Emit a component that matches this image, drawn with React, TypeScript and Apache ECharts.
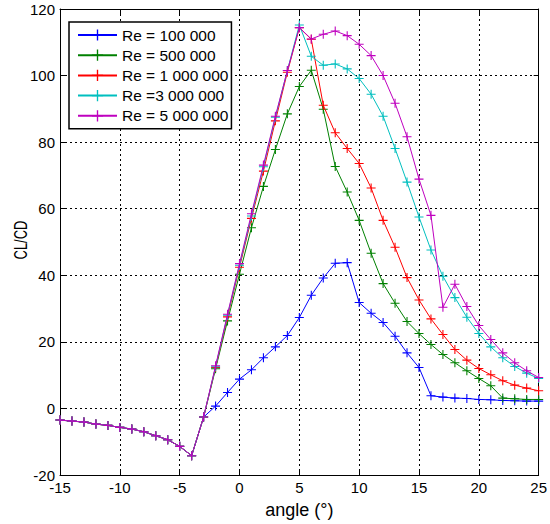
import React, { useEffect, useRef } from "react";
import * as echarts from "echarts";

const angles = [
  -15, -14, -13, -12, -11, -10, -9, -8, -7, -6, -5, -4, -3, -2, -1, 0, 1, 2, 3, 4, 5,
  6, 7, 8, 9, 10, 11, 12, 13, 14, 15, 16, 17, 18, 19, 20, 21, 22, 23, 24, 25,
];

// shared part (-15 .. -4)
const commonNeg = [-3.5, -3.8, -4.1, -4.7, -5.1, -5.7, -6.2, -7.0, -8.2, -9.4, -11.4, -14.2];

// -3 .. 25
const re100k = [-2.6, 0.7, 4.8, 8.8, 11.6, 15.2, 18.5, 21.9, 27.3, 34.0, 39.2, 43.6, 43.8, 31.8, 28.6, 25.8, 21.7, 16.7, 12.3, 3.8, 3.4, 3.1, 3.0, 2.7, 2.6, 2.4, 2.3, 2.2, 2.2];
const re500k = [-2.6, 11.9, 26.3, 40.3, 54.3, 66.7, 77.8, 88.5, 96.7, 101.6, 89.9, 72.7, 65.0, 56.5, 46.6, 37.5, 31.6, 26.1, 22.5, 19.2, 16.2, 13.7, 11.3, 9.0, 6.8, 3.1, 2.9, 2.7, 2.7];
const re1M = [-2.6, 12.3, 27.5, 42.4, 57.1, 71.3, 86.4, 101.0, 114.4, 110.9, 91.1, 82.8, 78.1, 73.6, 66.2, 56.5, 48.4, 39.3, 32.6, 26.9, 22.2, 17.7, 14.5, 12.0, 10.1, 8.3, 7.0, 6.1, 5.3];
const re3M = [-2.6, 12.5, 28.0, 43.0, 57.8, 72.6, 87.5, 101.5, 115.2, 105.8, 103.1, 103.5, 102.0, 99.1, 94.4, 87.8, 78.1, 68.0, 57.5, 47.6, 39.7, 33.3, 27.4, 22.5, 18.5, 15.2, 12.6, 10.6, 9.0];
const re5M = [-2.6, 12.8, 28.3, 43.5, 58.5, 73.1, 87.8, 101.5, 114.4, 111.0, 112.4, 113.4, 112.0, 109.4, 106.0, 100.0, 91.7, 81.6, 68.9, 58.0, 30.4, 37.3, 30.6, 24.9, 20.7, 16.7, 13.7, 11.3, 9.3];

const seriesNames = ["Re = 100 000", "Re = 500 000", "Re = 1 000 000", "Re =3 000 000", "Re = 5 000 000"];
const seriesValues = [re100k, re500k, re1M, re3M, re5M];
const colors = ["#0000ff", "#008000", "#ff0000", "#00bfbf", "#bf00bf"];

const xTitle = "angle (°)";
const yTitle = "CL/CD";

const plusSymbol = "path://M4.4,0h1.2v10h-1.2z M0,4.4h10v1.2h-10z";
const FONT = "Liberation Sans";

export default function App() {
  const ref = useRef<HTMLDivElement>(null);
  useEffect(() => {
    if (!ref.current) return;
    const chart = echarts.init(ref.current, null, { renderer: "svg" });
    const series = seriesNames.map((name, i) => {
      const vals = commonNeg.concat(seriesValues[i]);
      return {
        name,
        type: "line",
        data: angles.map((a, k) => [a, vals[k]]),
        symbol: plusSymbol,
        symbolSize: 9,
        showAllSymbol: true,
        lineStyle: { color: colors[i], width: 1 },
        itemStyle: { color: colors[i] },
        z: 2 + i,
      };
    });
    const axisCommon = {
      axisLine: { show: true, onZero: false, lineStyle: { color: "#000", width: 1 } },
      axisTick: { show: true, inside: true, length: 5, lineStyle: { color: "#000" } },
    };
    const gridLine = { show: true, lineStyle: { color: "#000", type: [2, 3], width: 1 } };
    chart.setOption({
      animation: false,
      backgroundColor: "#fff",
      textStyle: { fontFamily: FONT },
      grid: { left: 60, right: 8, top: 9, bottom: 43 },
      legend: {
        orient: "vertical",
        left: 69,
        top: 22,
        padding: [5, 3, 5, 8],
        itemWidth: 39,
        itemHeight: 14,
        itemGap: 4.2,
        borderColor: "#000",
        borderWidth: 1.5,
        backgroundColor: "#fff",
        textStyle: { fontSize: 15.5, lineHeight: 14, color: "#000", fontFamily: FONT },
        data: seriesNames,
      },
      graphic: [
        {
          type: "text",
          x: 21,
          y: 240,
          rotation: Math.PI / 2,
          scaleX: 0.72,
          style: {
            text: yTitle,
            fontSize: 18,
            fontFamily: FONT,
            fill: "#000",
            align: "center",
            verticalAlign: "middle",
          },
        },
      ],
      xAxis: [
        {
          type: "value",
          min: -15,
          max: 25,
          interval: 5,
          name: xTitle,
          nameLocation: "middle",
          nameGap: 26,
          nameTextStyle: { fontSize: 18, color: "#000", fontFamily: FONT },
          axisLabel: { fontSize: 15, color: "#000", margin: 5, fontFamily: FONT },
          splitLine: gridLine,
          ...axisCommon,
        },
        {
          type: "value",
          position: "top",
          min: -15,
          max: 25,
          interval: 5,
          axisLabel: { show: false },
          splitLine: { show: false },
          ...axisCommon,
        },
      ],
      yAxis: [
        {
          type: "value",
          min: -20,
          max: 120,
          interval: 20,
          axisLabel: { fontSize: 15, color: "#000", margin: 5, fontFamily: FONT },
          splitLine: gridLine,
          ...axisCommon,
        },
        {
          type: "value",
          position: "right",
          min: -20,
          max: 120,
          interval: 20,
          axisLabel: { show: false },
          splitLine: { show: false },
          ...axisCommon,
        },
      ],
      series,
    });
    return () => chart.dispose();
  }, []);
  return <div ref={ref} style={{ width: 550, height: 524, position: "absolute", left: 0, top: 0 }} />;
}
